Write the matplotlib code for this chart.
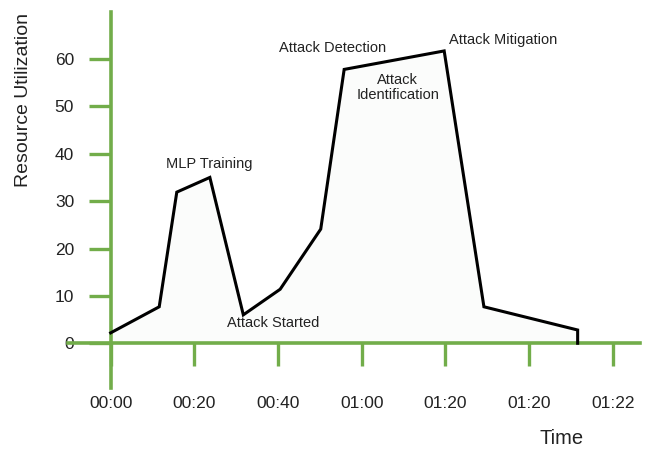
import matplotlib
matplotlib.use("Agg")
import matplotlib.pyplot as plt

plt.rcParams["font.family"] = ["Liberation Sans", "DejaVu Sans"]

# values
times = [0, 11.6, 15.8, 23.7, 31.7, 40.5, 50.2, 55.8, 79.7, 89.2, 111.6, 111.6]
util = [2.2, 7.7, 31.9, 35.0, 6.0, 11.4, 24.1, 57.8, 61.7, 7.7, 2.8, 0]

x_ticks = [0, 20, 40, 60, 80, 100, 120]
x_labels = ["00:00", "00:20", "00:40", "01:00", "01:20", "01:20", "01:22"]
y_ticks = [0, 10, 20, 30, 40, 50, 60]

labels = ["MLP Training", "Attack Started", "Attack Detection",
          "Attack\nIdentification", "Attack Mitigation"]
label_x = [23.5, 38.8, 53.1, 68.6, 93.9]
label_y = [37.8, 4.3, 62.4, 53.9, 64.0]

green = "#72ad4a"

fig = plt.figure(figsize=(6.46, 4.5), dpi=100)
ax = fig.add_axes([68 / 646, 0.1382, 572 / 646, 0.836])

ax.fill_between(times, util, 0, color="#fbfcfb", zorder=1)
ax.plot(times, util, color="black", lw=2.2, zorder=3, solid_joinstyle="miter")

ax.set_xlim(-10.2, 126.5)
ax.set_ylim(-9.4, 70)

for side in ["top", "right"]:
    ax.spines[side].set_visible(False)
for side in ["left", "bottom"]:
    ax.spines[side].set_position(("data", 0))
    ax.spines[side].set_color(green)
    ax.spines[side].set_linewidth(2.6)
    ax.spines[side].set_zorder(2)

ax.set_xticks(x_ticks)
ax.set_xticklabels(x_labels)
ax.set_yticks(y_ticks)
ax.tick_params(axis="x", direction="out", length=16.8, width=2.4, color=green,
               pad=21, labelsize=12.5, labelcolor="#222222")
ax.tick_params(axis="y", direction="out", length=15.8, width=2.4, color=green,
               pad=10.5, labelsize=12.5, labelcolor="#222222")

for t, lx, ly in zip(labels, label_x, label_y):
    ax.text(lx, ly, t, ha="center", va="center", fontsize=10.5,
            color="#222222", linespacing=1.1)

fig.text(24 / 646, 1 - 100 / 450, "Resource Utilization", rotation=90,
         ha="center", va="center", fontsize=14, color="#222222")
fig.text(562 / 646, 1 - 438 / 450, "Time", ha="center", va="center",
         fontsize=14.5, color="#222222")

fig.savefig("out.png", dpi=100)
